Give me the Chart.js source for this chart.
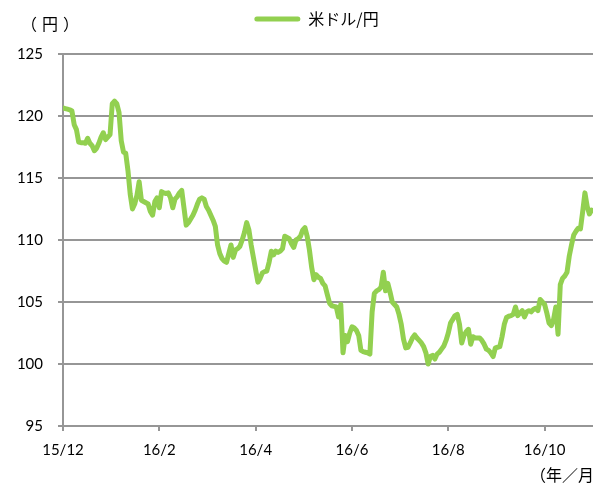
<!DOCTYPE html>
<html>
<head>
<meta charset="utf-8">
<script src="https://cdn.jsdelivr.net/npm/chart.js@4/dist/chart.umd.min.js"></script>
<style>
html,body{margin:0;padding:0;background:#fff;}
#wrap{width:593px;height:485px;position:relative;}
</style>
</head>
<body>
<div id="wrap"><canvas id="c" width="593" height="485"></canvas></div>
<script>
// Data (daily USD/JPY, roughly late Dec 2015 to late Nov 2016)
const seriesName = '米ドル/円';
const xTickLabels = ['15/12', '16/2', '16/4', '16/6', '16/8', '16/10'];
const xTickEvery = 43; // number of data points between labelled ticks
const yUnit = '（円）';
const xUnit = '（年／月）';
const usdJpy = [
  120.65,120.6,120.55,120.5,120.4,119.3,118.9,117.9,117.85,117.85,
  117.8,118.2,117.8,117.6,117.2,117.4,117.8,118.3,118.65,118.1,
  118.3,118.5,121.0,121.2,121.0,120.3,118.0,117.1,117.0,115.6,
  113.7,112.5,112.9,113.6,114.7,113.2,113.1,113.0,112.9,112.3,
  112.0,113.1,113.4,112.6,113.9,113.8,113.75,113.8,113.4,112.6,
  113.3,113.5,113.8,114.0,112.6,111.2,111.4,111.7,112.0,112.4,
  112.9,113.3,113.4,113.3,112.7,112.4,112.0,111.6,111.1,109.6,
  108.9,108.5,108.3,108.2,108.9,109.6,108.6,109.2,109.3,109.5,
  110.0,110.6,111.4,110.8,109.6,108.6,107.6,106.6,106.9,107.35,
  107.45,107.5,108.2,109.1,108.8,109.1,109.0,109.1,109.3,110.3,
  110.2,110.1,109.7,109.4,110.0,110.1,110.3,110.8,111.0,110.3,
  109.2,107.8,106.8,107.2,107.0,106.9,106.5,106.3,105.6,104.9,
  104.7,104.65,104.6,103.8,104.8,100.9,102.3,101.8,102.5,103.0,
  102.9,102.7,102.3,101.1,101.0,100.95,100.9,100.8,104.2,105.7,
  105.9,106.0,106.2,107.4,105.9,106.5,105.8,105.0,104.8,104.6,
  104.0,103.2,102.0,101.3,101.35,101.7,102.1,102.35,102.1,101.9,
  101.7,101.4,100.9,100.0,100.6,100.7,100.4,100.8,100.95,101.2,
  101.45,101.9,102.5,103.3,103.6,103.9,104.0,103.2,101.7,102.3,
  102.6,102.8,101.6,102.2,102.1,102.1,102.1,101.9,101.6,101.2,
  101.1,100.9,100.6,101.3,101.35,101.4,102.2,103.2,103.75,103.85,
  103.9,104.0,104.6,103.9,104.1,104.3,103.8,104.2,104.3,104.2,
  104.4,104.5,104.3,105.2,105.0,104.8,104.1,103.3,103.1,103.6,
  104.6,102.4,106.4,106.9,107.1,107.4,108.7,109.6,110.4,110.7,
  110.95,110.9,112.3,113.8,112.7,112.1,112.4
];
const yMin = 95, yMax = 125, yStep = 5;

const lineColor = '#92D050';
const gridColor = '#969696';
const fontFamily = 'Lato, "Noto Sans CJK JP", sans-serif';
const cjkFont = '"Noto Sans CJK JP", sans-serif';

const points = usdJpy.map((v, i) => ({ x: i, y: v }));
const tickValues = xTickLabels.map((_, k) => k * xTickEvery);

const extraText = {
  id: 'extraText',
  afterLayout(chart) {
    const L = chart.legend;
    if (!L) return;
    const dy = 0 - L.top;
    L.top += dy; L.bottom += dy;
    L.left += 20; L.right += 20;
  },
  afterDraw(chart) {
    const ctx = chart.ctx;
    ctx.save();
    ctx.fillStyle = '#000';
    ctx.font = '16px ' + cjkFont;
    ctx.textBaseline = 'middle';
    ctx.textAlign = 'left';
    ctx.letterSpacing = '5px';
    ctx.fillText(yUnit, 21, 24);
    ctx.letterSpacing = '0px';
    ctx.fillText(xUnit, 530, 475);
    ctx.restore();
  }
};

new Chart(document.getElementById('c'), {
  type: 'line',
  data: {
    datasets: [{
      label: seriesName,
      data: points,
      borderColor: lineColor,
      backgroundColor: lineColor,
      borderWidth: 5,
      pointRadius: 0,
      tension: 0,
      borderJoinStyle: 'round',
      borderCapStyle: 'round',
      fill: false
    }]
  },
  options: {
    responsive: false,
    animation: false,
    layout: { padding: { top: 17, right: 0, left: 0, bottom: 0 } },
    plugins: {
      tooltip: { enabled: false },
      legend: {
        position: 'top',
        labels: {
          boxWidth: 46,
          boxHeight: 5,
          padding: 11,
          color: '#000',
          font: { family: cjkFont, size: 16 },
          generateLabels(chart) {
            const items = Chart.defaults.plugins.legend.labels.generateLabels(chart);
            items.forEach(it => { it.fillStyle = lineColor; it.lineWidth = 0; it.borderRadius = 2.5; });
            return items;
          }
        }
      }
    },
    scales: {
      x: {
        type: 'linear',
        min: 0,
        max: 236.6,
        afterBuildTicks(scale) { scale.ticks = tickValues.map(v => ({ value: v })); },
        afterFit(scale) { scale.height = 59; },
        grid: { drawOnChartArea: false, drawTicks: true, tickLength: 5, color: gridColor, lineWidth: 2 },
        border: { display: true, color: gridColor, width: 2 },
        ticks: {
          padding: 10,
          maxRotation: 0,
          autoSkip: false,
          color: '#000',
          font: { family: fontFamily, size: 15 },
          callback(value) {
            const k = tickValues.indexOf(value);
            return k >= 0 ? xTickLabels[k] : '';
          }
        }
      },
      y: {
        min: yMin,
        max: yMax,
        afterFit(scale) { scale.width = 63; },
        grid: { color: gridColor, lineWidth: 2, tickLength: 5, drawTicks: true },
        border: { display: true, color: gridColor, width: 2 },
        ticks: {
          stepSize: yStep,
          padding: 15,
          color: '#000',
          font: { family: fontFamily, size: 15 }
        }
      }
    }
  },
  plugins: [extraText]
});
</script>
</body>
</html>
